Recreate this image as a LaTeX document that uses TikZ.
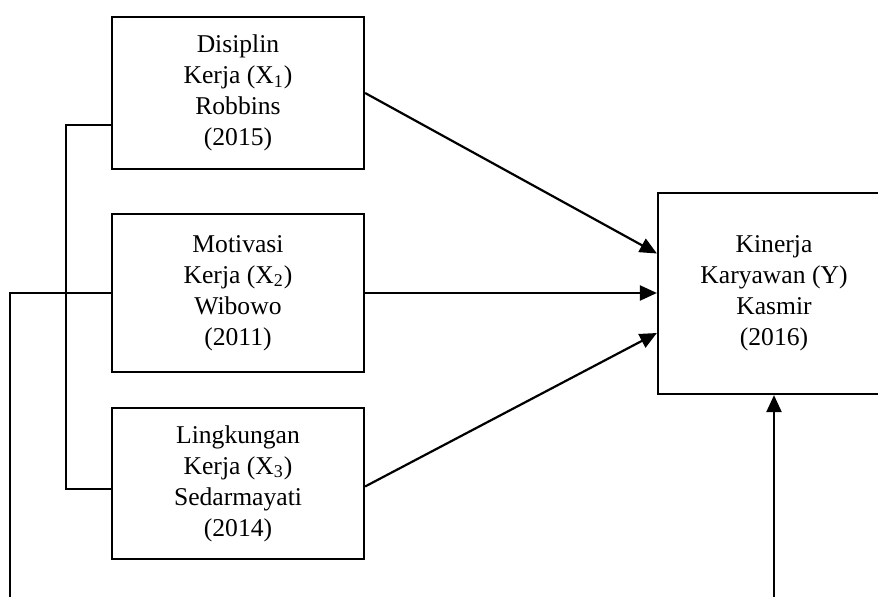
\documentclass[tikz,border=0pt]{standalone}
\usepackage{fontspec}
\setmainfont{Liberation Serif}
\usepackage{tikz}
\usetikzlibrary{arrows.meta, positioning, calc}

\begin{document}
\begin{tikzpicture}[
    x=0.5pt, y=-0.5pt,
    varbox/.style={rectangle, draw, line width=1.1pt, minimum width=126pt, inner sep=0pt, align=center, font=\fontsize{12.8}{15.5}\selectfont},
    conn/.style={line width=1.1pt},
    arrowconn/.style={line width=1.1pt, -{Triangle[length=8.5pt, width=7.5pt]}}
]
  \useasboundingbox (0,0) rectangle (878,597);

  % Variable boxes
  \node[varbox, minimum height=76pt] (disiplin) at (238,93) {Disiplin\\Kerja (X\textsubscript{1})\\Robbins\\(2015)};
  \node[varbox, minimum height=79pt] (motivasi) at (238,293) {Motivasi\\Kerja (X\textsubscript{2})\\Wibowo\\(2011)};
  \node[varbox, minimum height=75.5pt] (lingkungan) at (238,483.5) {Lingkungan\\Kerja (X\textsubscript{3})\\Sedarmayati\\(2014)};
  \node[varbox, minimum width=116pt, minimum height=100.5pt] (kinerja) at (774,293.5) {Kinerja\\Karyawan (Y)\\Kasmir\\(2016)};

  % Bracket between X1 and X3
  \coordinate (bracketTop) at (66,125);
  \coordinate (bracketBottom) at (66,489);
  \draw[conn] (disiplin.west |- bracketTop) -- (bracketTop) -- (bracketBottom) -- (lingkungan.west |- bracketBottom);

  % Outer loop to Y
  \coordinate (loopLeft) at (10,293);
  \coordinate (loopDownLeft) at (10,610);
  \coordinate (loopDownRight) at (774,610);
  \draw[conn] (motivasi.west) -- (loopLeft) -- (loopDownLeft);
  \draw[arrowconn] (loopDownRight) -- (kinerja.south);

  % Direct effects
  \draw[arrowconn] (disiplin.east) -- ($(kinerja.west)+(0,-40)$);
  \draw[arrowconn] (motivasi.east) -- (kinerja.west |- motivasi.east);
  \draw[arrowconn] ($(lingkungan.east)+(0,3)$) -- ($(kinerja.west)+(0,39.5)$);
\end{tikzpicture}
\end{document}
